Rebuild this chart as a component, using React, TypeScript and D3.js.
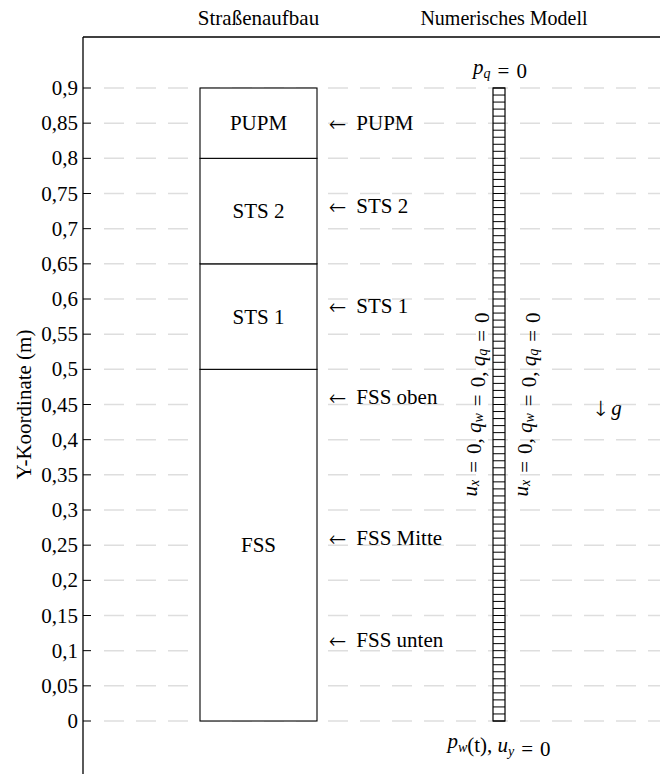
import React from "react";
import * as d3 from "d3";

// ---- data ----
const yTicks = [0, 0.05, 0.1, 0.15, 0.2, 0.25, 0.3, 0.35, 0.4, 0.45, 0.5, 0.55, 0.6, 0.65, 0.7, 0.75, 0.8, 0.85, 0.9];
const layerNames = ["FSS", "STS 1", "STS 2", "PUPM"];
const layerBottoms = [0, 0.5, 0.65, 0.8];
const layerTops = [0.5, 0.65, 0.8, 0.9];
const sensorNames = ["PUPM", "STS 2", "STS 1", "FSS oben", "FSS Mitte", "FSS unten"];
const sensorY = [0.85, 0.732, 0.59, 0.46, 0.26, 0.115];
const meshElementSize = 0.01;
const meshHeight = 0.9;

const W = 660;
const H = 774;
const TS: React.CSSProperties = { fontFamily: '"Liberation Serif"' };
const AS: React.CSSProperties = { fontFamily: '"FreeSerif"' };
const FS = 21;
const SUBFS = 14;
const REL = "\u2004=\u20040";

function fmt(v: number) {
  return String(+v.toFixed(2)).replace(".", ",");
}

function Sub({ base, sub }: { base: string; sub: string }) {
  return (
    <>
      <tspan fontStyle="italic">{base}</tspan>
      <tspan fontStyle="italic" fontSize={SUBFS} dy={4}>{sub}</tspan>
      <tspan dy={-4}></tspan>
    </>
  );
}

function BCLabel() {
  return (
    <>
      <Sub base="u" sub="x" />
      {REL + ", "}
      <Sub base="q" sub="w" />
      {REL + ", "}
      <Sub base="q" sub="q" />
      {REL}
    </>
  );
}

export default function App() {
  const y = d3.scaleLinear().domain([0, 0.9]).range([721, 88]);
  const axisX = 83;
  const topY = 37;
  const boxX0 = 200;
  const boxX1 = 317;
  const boxC = (boxX0 + boxX1) / 2;
  const meshX0 = 493;
  const meshX1 = 505;
  const meshC = (meshX0 + meshX1) / 2;
  const meshEdges = d3.range(0, Math.round(meshHeight / meshElementSize) + 1).map((i) => i * meshElementSize);
  const midY = y(0.45);

  return (
    <svg
      width={W}
      height={H}
      style={{ position: "absolute", left: 0, top: 0, display: "block", background: "#fff" }}
    >
      {/* gridlines */}
      {yTicks.map((t) => (
        <line key={"g" + t} x1={104} x2={W} y1={y(t)} y2={y(t)} stroke="#dedede" strokeWidth={1.5} strokeDasharray="20 12" />
      ))}
      {/* axis */}
      <line x1={axisX} x2={axisX} y1={topY} y2={H} stroke="#000" strokeWidth={1.3} />
      <line x1={axisX} x2={W} y1={topY} y2={topY} stroke="#000" strokeWidth={1.3} />
      {yTicks.map((t) => (
        <g key={"t" + t}>
          <line x1={axisX} x2={axisX + 8} y1={y(t)} y2={y(t)} stroke="#000" strokeWidth={1} />
          <text x={78} y={y(t)} textAnchor="end" dominantBaseline="central" fontSize={FS} style={TS}>{fmt(t)}</text>
        </g>
      ))}
      <text transform={`translate(24,${midY}) rotate(-90)`} textAnchor="middle" dominantBaseline="central" fontSize={FS} style={TS}>Y-Koordinate (m)</text>

      {/* headers */}
      <text x={boxC} y={25} textAnchor="middle" fontSize={FS} style={TS}>Straßenaufbau</text>
      <text x={meshC + 5} y={25} textAnchor="middle" fontSize={20} style={TS}>Numerisches Modell</text>

      {/* layers */}
      {layerNames.map((n, i) => (
        <g key={n}>
          <rect x={boxX0} y={y(layerTops[i])} width={boxX1 - boxX0} height={y(layerBottoms[i]) - y(layerTops[i])} fill="#fff" stroke="#000" strokeWidth={1.1} />
          <text x={boxC} y={y((layerTops[i] + layerBottoms[i]) / 2)} textAnchor="middle" dominantBaseline="central" fontSize={FS} style={TS}>{n}</text>
        </g>
      ))}

      {/* sensors */}
      {sensorNames.map((n, i) => (
        <text key={n} x={329} y={y(sensorY[i])} dominantBaseline="central" fontSize={FS} style={TS}>
          <tspan style={AS}>{"\u2190"}</tspan>
          {"\u2002" + n}
        </text>
      ))}

      {/* mesh */}
      <rect x={meshX0} y={y(meshHeight)} width={meshX1 - meshX0} height={y(0) - y(meshHeight)} fill="#fff" stroke="#000" strokeWidth={1.2} />
      {meshEdges.map((e) => (
        <line key={"m" + e} x1={meshX0} x2={meshX1} y1={y(e)} y2={y(e)} stroke="#000" strokeWidth={1} />
      ))}

      {/* boundary conditions */}
      <text x={meshC + 1} y={74} textAnchor="middle" fontSize={FS} style={TS}>
        <Sub base="p" sub="q" />
        {REL}
      </text>
      <text x={meshC} y={748} textAnchor="middle" fontSize={FS} style={TS}>
        <Sub base="p" sub="w" />
        {"(t), "}
        <Sub base="u" sub="y" />
        {REL}
      </text>
      <text transform={`translate(470,${midY}) rotate(-90)`} textAnchor="middle" dominantBaseline="central" fontSize={FS} style={TS}>
        <BCLabel />
      </text>
      <text transform={`translate(521,${midY}) rotate(-90)`} textAnchor="middle" dominantBaseline="central" fontSize={FS} style={TS}>
        <BCLabel />
      </text>
      <text x={596} y={y(0.445)} dominantBaseline="central" fontSize={FS} style={TS}>
        <tspan style={AS}>{"\u2193"}</tspan>
        {" "}
        <tspan fontStyle="italic">g</tspan>
      </text>
    </svg>
  );
}
